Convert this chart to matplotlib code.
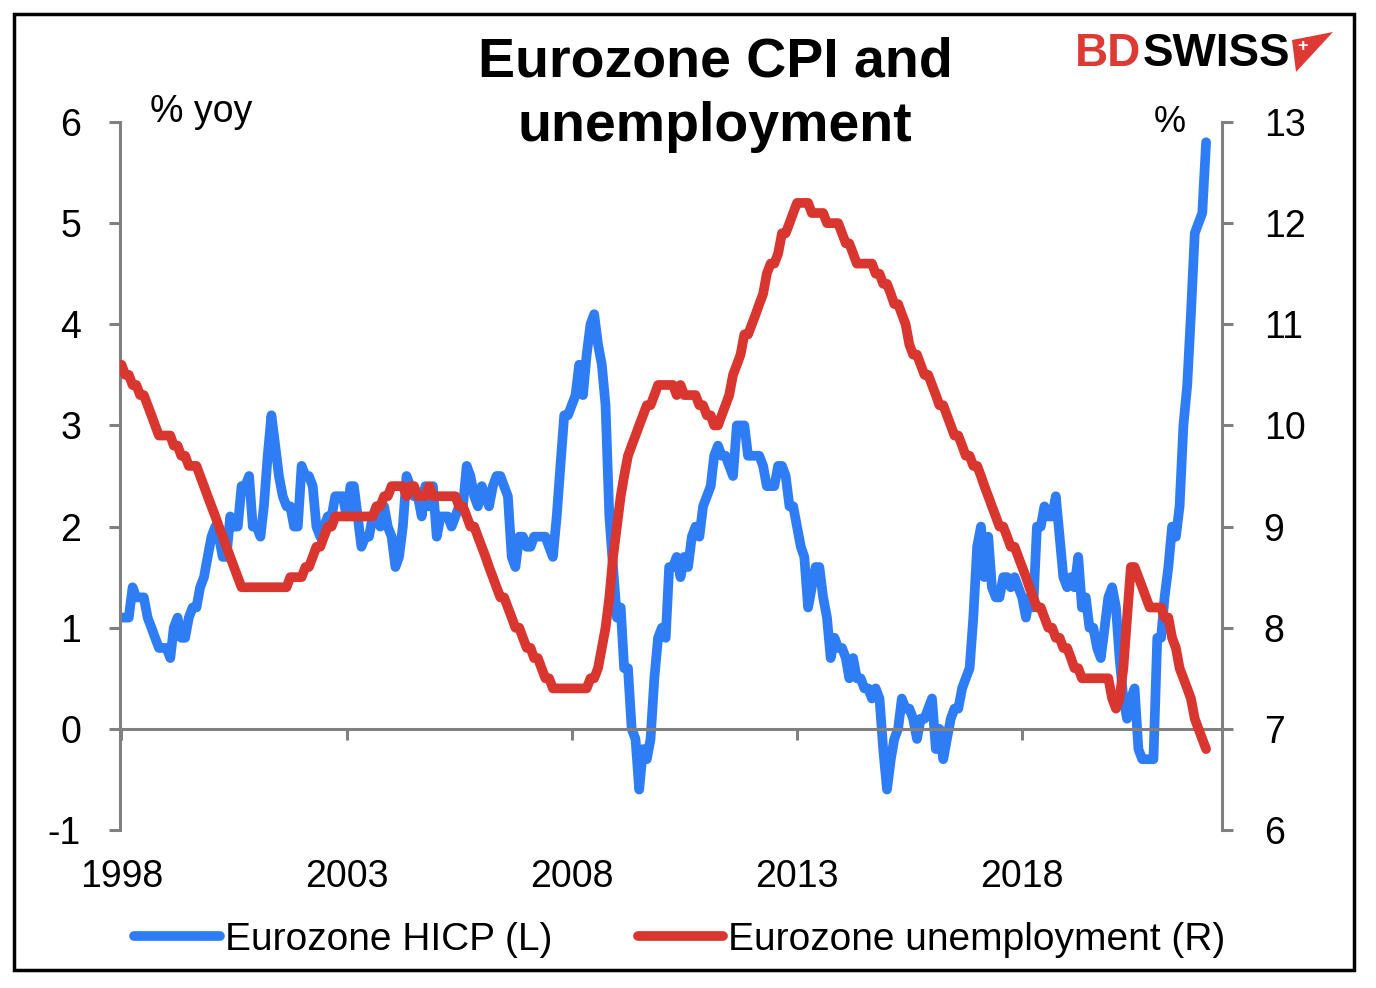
import numpy as np
import pandas as pd
import matplotlib
matplotlib.use("Agg")
import matplotlib.pyplot as plt
import matplotlib.dates as mdates
from matplotlib.patches import Rectangle, Polygon

plt.rcParams['font.family'] = ['Liberation Sans', 'DejaVu Sans']
plt.rcParams['axes.unicode_minus'] = False

# Eurozone HICP, % yoy, monthly from Jan 1998 (left axis)
hicp = [
    1.1, 1.1, 1.1, 1.4, 1.3, 1.3, 1.3, 1.1, 1.0, 0.9, 0.8, 0.8,   # 1998
    0.8, 0.7, 1.0, 1.1, 0.9, 0.9, 1.1, 1.2, 1.2, 1.4, 1.5, 1.7,   # 1999
    1.9, 2.0, 1.9, 1.7, 1.7, 2.1, 2.0, 2.0, 2.4, 2.4, 2.5, 2.0,   # 2000
    2.0, 1.9, 2.2, 2.7, 3.1, 2.8, 2.5, 2.3, 2.2, 2.2, 2.0, 2.0,   # 2001
    2.6, 2.5, 2.5, 2.4, 2.0, 1.9, 2.0, 2.1, 2.1, 2.3, 2.3, 2.3,   # 2002
    2.1, 2.4, 2.4, 2.1, 1.8, 1.9, 1.9, 2.1, 2.2, 2.0, 2.2, 2.0,   # 2003
    1.9, 1.6, 1.7, 2.0, 2.5, 2.4, 2.3, 2.3, 2.1, 2.4, 2.2, 2.4,   # 2004
    1.9, 2.1, 2.1, 2.1, 2.0, 2.1, 2.2, 2.2, 2.6, 2.5, 2.3, 2.2,   # 2005
    2.4, 2.3, 2.2, 2.4, 2.5, 2.5, 2.4, 2.3, 1.7, 1.6, 1.9, 1.9,   # 2006
    1.8, 1.8, 1.9, 1.9, 1.9, 1.9, 1.8, 1.7, 2.1, 2.6, 3.1, 3.1,   # 2007
    3.2, 3.3, 3.6, 3.3, 3.7, 4.0, 4.1, 3.8, 3.6, 3.2, 2.1, 1.6,   # 2008
    1.1, 1.2, 0.6, 0.6, 0.0, -0.1, -0.6, -0.2, -0.3, -0.1, 0.5, 0.9,  # 2009
    1.0, 0.9, 1.6, 1.6, 1.7, 1.5, 1.7, 1.6, 1.9, 2.0, 1.9, 2.2,   # 2010
    2.3, 2.4, 2.7, 2.8, 2.7, 2.7, 2.6, 2.5, 3.0, 3.0, 3.0, 2.7,   # 2011
    2.7, 2.7, 2.7, 2.6, 2.4, 2.4, 2.4, 2.6, 2.6, 2.5, 2.2, 2.2,   # 2012
    2.0, 1.8, 1.7, 1.2, 1.4, 1.6, 1.6, 1.3, 1.1, 0.7, 0.9, 0.8,   # 2013
    0.8, 0.7, 0.5, 0.7, 0.5, 0.5, 0.4, 0.4, 0.3, 0.4, 0.3, -0.2,  # 2014
    -0.6, -0.3, -0.1, 0.0, 0.3, 0.2, 0.2, 0.1, -0.1, 0.1, 0.1, 0.2,  # 2015
    0.3, -0.2, 0.0, -0.3, -0.1, 0.1, 0.2, 0.2, 0.4, 0.5, 0.6, 1.1,  # 2016
    1.8, 2.0, 1.5, 1.9, 1.4, 1.3, 1.3, 1.5, 1.5, 1.4, 1.5, 1.4,   # 2017
    1.3, 1.1, 1.3, 1.2, 2.0, 2.0, 2.2, 2.1, 2.1, 2.3, 1.9, 1.5,   # 2018
    1.4, 1.5, 1.4, 1.7, 1.2, 1.3, 1.0, 1.0, 0.8, 0.7, 1.0, 1.3,   # 2019
    1.4, 1.2, 0.7, 0.3, 0.1, 0.3, 0.4, -0.2, -0.3, -0.3, -0.3, -0.3,  # 2020
    0.9, 0.9, 1.3, 1.6, 2.0, 1.9, 2.2, 3.0, 3.4, 4.1, 4.9, 5.0,   # 2021
    5.1, 5.8,                                                     # 2022
]

# Eurozone unemployment rate, %, monthly from Jan 1998 (right axis)
unemp = [
    10.6, 10.5, 10.5, 10.4, 10.4, 10.3, 10.3, 10.2, 10.1, 10.0, 9.9, 9.9,  # 1998
    9.9, 9.9, 9.8, 9.8, 9.7, 9.7, 9.6, 9.6, 9.6, 9.5, 9.4, 9.3,   # 1999
    9.2, 9.1, 9.0, 8.9, 8.8, 8.7, 8.6, 8.5, 8.4, 8.4, 8.4, 8.4,   # 2000
    8.4, 8.4, 8.4, 8.4, 8.4, 8.4, 8.4, 8.4, 8.4, 8.5, 8.5, 8.5,   # 2001
    8.5, 8.6, 8.6, 8.7, 8.8, 8.8, 8.9, 9.0, 9.0, 9.1, 9.1, 9.1,   # 2002
    9.1, 9.1, 9.1, 9.1, 9.1, 9.1, 9.1, 9.1, 9.2, 9.2, 9.3, 9.3,   # 2003
    9.4, 9.4, 9.4, 9.4, 9.3, 9.4, 9.4, 9.3, 9.3, 9.3, 9.4, 9.3,   # 2004
    9.3, 9.3, 9.3, 9.3, 9.3, 9.3, 9.2, 9.2, 9.1, 9.0, 9.0, 8.9,   # 2005
    8.8, 8.7, 8.6, 8.5, 8.4, 8.3, 8.3, 8.2, 8.1, 8.0, 8.0, 7.9,   # 2006
    7.8, 7.8, 7.7, 7.7, 7.6, 7.5, 7.5, 7.4, 7.4, 7.4, 7.4, 7.4,   # 2007
    7.4, 7.4, 7.4, 7.4, 7.4, 7.5, 7.5, 7.6, 7.8, 8.0, 8.3, 8.7,   # 2008
    9.0, 9.3, 9.5, 9.7, 9.8, 9.9, 10.0, 10.1, 10.2, 10.2, 10.3, 10.4,  # 2009
    10.4, 10.4, 10.4, 10.4, 10.3, 10.4, 10.3, 10.3, 10.3, 10.3, 10.2, 10.2,  # 2010
    10.1, 10.1, 10.0, 10.0, 10.1, 10.2, 10.3, 10.5, 10.6, 10.7, 10.9, 10.9,  # 2011
    11.0, 11.1, 11.2, 11.3, 11.5, 11.6, 11.6, 11.7, 11.9, 11.9, 12.0, 12.1,  # 2012
    12.2, 12.2, 12.2, 12.2, 12.1, 12.1, 12.1, 12.1, 12.0, 12.0, 12.0, 12.0,  # 2013
    11.9, 11.8, 11.8, 11.7, 11.6, 11.6, 11.6, 11.6, 11.6, 11.5, 11.5, 11.4,  # 2014
    11.4, 11.3, 11.2, 11.2, 11.1, 11.0, 10.8, 10.7, 10.7, 10.6, 10.5, 10.5,  # 2015
    10.4, 10.3, 10.2, 10.2, 10.1, 10.0, 9.9, 9.9, 9.8, 9.7, 9.7, 9.6,  # 2016
    9.6, 9.5, 9.4, 9.3, 9.2, 9.1, 9.0, 9.0, 8.9, 8.8, 8.8, 8.7,   # 2017
    8.6, 8.5, 8.4, 8.3, 8.2, 8.2, 8.1, 8.0, 8.0, 7.9, 7.9, 7.8,   # 2018
    7.8, 7.7, 7.6, 7.6, 7.5, 7.5, 7.5, 7.5, 7.5, 7.5, 7.5, 7.5,   # 2019
    7.3, 7.2, 7.3, 7.6, 8.1, 8.6, 8.6, 8.5, 8.4, 8.3, 8.2, 8.2,   # 2020
    8.2, 8.2, 8.1, 8.1, 7.9, 7.8, 7.6, 7.5, 7.4, 7.3, 7.1, 7.0,   # 2021
    6.9, 6.8,                                                     # 2022
]

dates = pd.date_range('1998-01-01', periods=len(hicp), freq='MS')
year_ticks = [1998, 2003, 2008, 2013, 2018]

blue = '#2F7DF4'
red = '#D9362F'
grey = '#808080'

fig = plt.figure(figsize=(13.76, 9.88), dpi=100)
fig.patch.set_facecolor('white')

ax = fig.add_axes([120 / 1376, 1 - 830 / 988, (1222 - 120) / 1376, (830 - 122) / 988])
ax2 = ax.twinx()

l1, = ax.plot(dates, hicp, color=blue, lw=7, solid_joinstyle='round',
              solid_capstyle='round', label='Eurozone HICP (L)')
l2, = ax2.plot(dates, unemp, color=red, lw=7, solid_joinstyle='round',
               solid_capstyle='round', label='Eurozone unemployment (R)')

ax.set_xlim(pd.Timestamp('1997-12-20'), pd.Timestamp('2022-06-10'))
ax.set_ylim(-1, 6)
ax2.set_ylim(6, 13)
ax.set_yticks(range(-1, 7))
ax2.set_yticks(range(6, 14))

ax.set_xticks([pd.Timestamp(f'{y}-01-01') for y in year_ticks])
ax.xaxis.set_major_formatter(mdates.DateFormatter('%Y'))

for a in (ax, ax2):
    a.spines['top'].set_visible(False)
    for s in a.spines.values():
        s.set_color(grey)
        s.set_linewidth(2.2)
    a.set_facecolor('none')

ax.spines['right'].set_visible(False)
ax2.spines['left'].set_visible(False)
ax2.spines['bottom'].set_visible(False)
ax.spines['bottom'].set_position(('data', 0))

ax.tick_params(axis='y', direction='out', length=8, width=2.2, color=grey,
               labelsize=27, pad=20)
ax2.tick_params(axis='y', direction='out', length=8, width=2.2, color=grey,
                labelsize=27, pad=22)
ax.tick_params(axis='x', direction='out', length=8, width=2.2, color=grey,
               labelsize=27, pad=86)

fig.text(150 / 1376, 1 - 112 / 988, '% yoy', fontsize=27, va='center', ha='left')
fig.text(1170 / 1376, 1 - 123 / 988, '%', fontsize=26, va='center', ha='center')

fig.text(715 / 1376, 1 - 95 / 988, 'Eurozone CPI and\nunemployment', fontsize=40,
         fontweight='bold', ha='center', va='center', linespacing=1.32)

# logo
fig.text(1075 / 1376, 1 - 54 / 988, 'BD', fontsize=33, fontweight='bold',
         color='#DE3A34', ha='left', va='center')
fig.text(1143 / 1376, 1 - 54 / 988, 'SWISS', fontsize=33, fontweight='bold',
         color='black', ha='left', va='center')
tri = Polygon([[1292 / 1376, 1 - 40 / 988], [1333 / 1376, 1 - 32 / 988],
               [1296 / 1376, 1 - 72 / 988]], closed=True,
              transform=fig.transFigure, facecolor='#DE3A34', edgecolor='none')
fig.patches.append(tri)
fig.text(1303 / 1376, 1 - 46 / 988, '+', fontsize=13, fontweight='bold',
         color='white', ha='center', va='center')

fig.legend([l1, l2], [l1.get_label(), l2.get_label()], loc='center',
           bbox_to_anchor=(680 / 1376, 1 - 940 / 988), ncol=2, frameon=False,
           fontsize=28, handlelength=2.2, handletextpad=0.13, columnspacing=2.2,
           borderpad=0)

border = Rectangle((14 / 1376, 1 - 970 / 988), (1354 - 14) / 1376, (970 - 14) / 988,
                   transform=fig.transFigure, fill=False, edgecolor='black', lw=2.5)
fig.patches.append(border)

fig.savefig('out.png', dpi=100, facecolor='white')
